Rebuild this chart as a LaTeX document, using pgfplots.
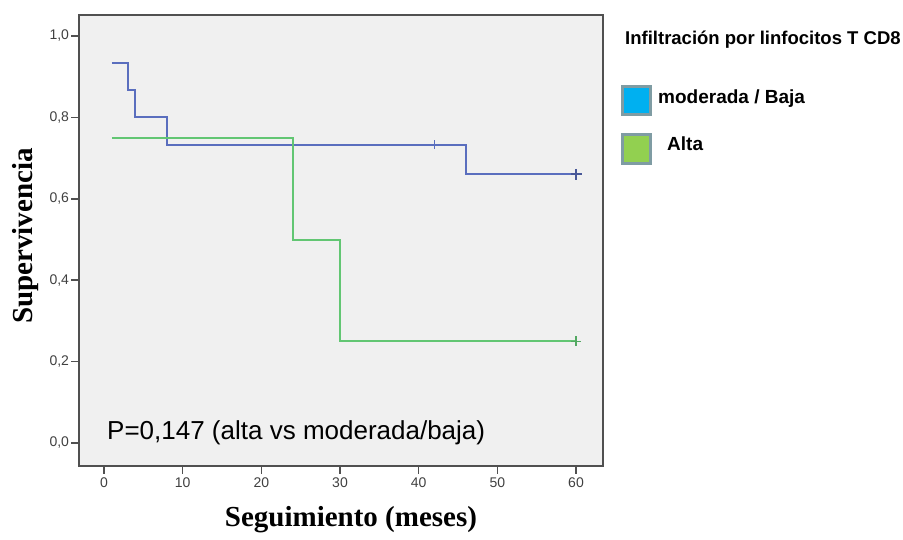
\documentclass[border=0pt]{standalone}
\usepackage{pgfplots}
\pgfplotsset{compat=1.18}
\usepackage{fontspec}
\setmainfont{Liberation Sans}
\newfontfamily\serifbold{Liberation Serif}

\definecolor{bluecurve}{HTML}{5A6EBE}
\definecolor{greencurve}{HTML}{62C673}
\definecolor{plotbg}{HTML}{F0F0F0}
\definecolor{framegray}{HTML}{505050}
\definecolor{ticktext}{HTML}{404040}
\definecolor{legblue}{HTML}{00B0F0}
\definecolor{leggreen}{HTML}{92D050}
\definecolor{legedge}{HTML}{7F9CA3}

\begin{document}
\begin{tikzpicture}[x=1pt,y=1pt]
\useasboundingbox (0,0) rectangle (903,539);
\begin{axis}[
    at={(79pt,73pt)}, anchor=south west,
    scale only axis, width=524pt, height=451pt,
    xmin=-3.18, xmax=63.43, ymin=-0.0565, ymax=1.0516,
    axis background/.style={fill=plotbg},
    axis line style={framegray, line width=1.4pt},
    tick style={framegray, line width=1.5pt},
    tick align=outside, tick pos=left,
    major tick length=7.5pt,
    xtick={0,10,20,30,40,50,60},
    ytick={0,0.2,0.4,0.6,0.8,1.0},
    yticklabel style={/pgf/number format/fixed, /pgf/number format/fixed zerofill,
        /pgf/number format/precision=1, /pgf/number format/use comma, xshift=1pt},
    /pgf/number format/assume math mode=true,
    tick label style={font=\fontsize{14}{16}\selectfont, text=ticktext},
    xticklabel style={yshift=-1pt},
    xlabel={\serifbold\bfseries\fontsize{29}{32}\selectfont Seguimiento (meses)},
    ylabel={\serifbold\bfseries\fontsize{29}{32}\selectfont Supervivencia},
    xlabel style={at={(axis description cs:0.519,-0.12)}, anchor=center},
    ylabel style={at={(axis description cs:-0.103,0.51)}, anchor=center},
    clip=false,
]
% moderada / baja
\addplot[const plot, bluecurve, line width=2pt] coordinates {
    (1,0.9333) (3,0.8667) (4,0.8) (8,0.7333) (46,0.66) (60,0.66)};
\addplot[only marks, mark=+, mark size=4.5pt, bluecurve, line width=1.5pt] coordinates {(42,0.7333)};
\addplot[only marks, mark=+, mark size=5.5pt, bluecurve!80!black, line width=2.2pt] coordinates {(60,0.66)};
% alta
\addplot[const plot, greencurve, line width=2pt] coordinates {
    (1,0.75) (24,0.5) (30,0.25) (60,0.25)};
\addplot[only marks, mark=+, mark size=5pt, greencurve!85!black, line width=1.5pt] coordinates {(60,0.25)};
\node[anchor=base west, inner sep=0pt, font=\fontsize{26}{30}\selectfont] at (axis cs:0.38,0.0098) {P=0,147 (alta vs moderada/baja)};
\end{axis}
% legend
\node[anchor=base west, inner sep=0pt, font=\bfseries\fontsize{18.5}{21}\selectfont] at (625,494) {Infiltración por linfocitos T CD8};
\draw[legedge, line width=2.5pt, fill=legblue] (622.5,424.5) rectangle (650.5,452.5);
\draw[legedge, line width=2.5pt, fill=leggreen] (622.5,375.5) rectangle (650.5,404.5);
\node[anchor=base west, inner sep=0pt, font=\bfseries\fontsize{19}{22}\selectfont] at (658,435) {moderada / Baja};
\node[anchor=base west, inner sep=0pt, font=\bfseries\fontsize{19}{22}\selectfont] at (667,388) {Alta};
\end{tikzpicture}
\end{document}
